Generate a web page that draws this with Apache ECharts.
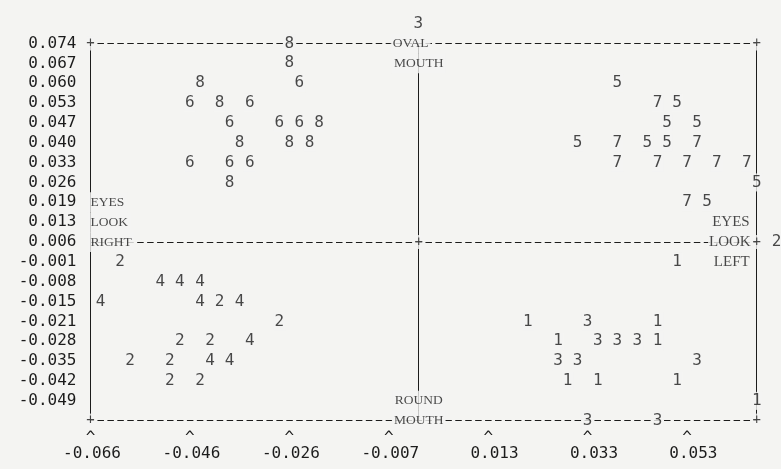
<!DOCTYPE html>
<html>
<head>
<meta charset="utf-8">
<script src="https://cdn.jsdelivr.net/npm/echarts@6/dist/echarts.min.js"></script>
<style>
  html, body { margin: 0; padding: 0; background: #f4f4f2; }
  #chart { width: 781px; height: 469px; }
</style>
</head>
<body>
<div id="chart"></div>
<script>
// Tick labels printed along the axes
const xTickLabels = ['-0.066', '-0.046', '-0.026', '-0.007', '0.013', '0.033', '0.053'];
const yTickLabels = ['0.074', '0.067', '0.060', '0.053', '0.047', '0.040', '0.033', '0.026',
  '0.019', '0.013', '0.006', '-0.001', '-0.008', '-0.015', '-0.021', '-0.028', '-0.035',
  '-0.042', '-0.049', '-0.056'];

// Plot range: 68 print columns by 20 print lines
const xMin = -0.066, xStep = 0.00198, xCols = 67;
const yMax = 0.074, yMin = -0.056, yRows = 19;

// Scores per class, [x, y]; each point is printed as its class digit
const class1 = [[0.0508, -0.0013], [0.0211, -0.0218], [0.0469, -0.0218], [0.0271, -0.0286],
  [0.0469, -0.0286], [0.0290, -0.0423], [0.0350, -0.0423], [0.0508, -0.0423], [0.0667, -0.0492]];
const class2 = [[-0.0601, -0.0013], [-0.0403, -0.0150], [-0.0284, -0.0218], [-0.0482, -0.0286],
  [-0.0422, -0.0286], [-0.0581, -0.0355], [-0.0502, -0.0355], [-0.0502, -0.0423],
  [-0.0442, -0.0423], [0.0706, 0.0056]];
const class3 = [[-0.0007, 0.0808], [0.0330, -0.0218], [0.0350, -0.0286], [0.0389, -0.0286],
  [0.0429, -0.0286], [0.0271, -0.0355], [0.0310, -0.0355], [0.0548, -0.0355],
  [0.0330, -0.0560], [0.0469, -0.0560]];
const class4 = [[-0.0521, -0.0081], [-0.0482, -0.0081], [-0.0442, -0.0081], [-0.0640, -0.0150],
  [-0.0442, -0.0150], [-0.0363, -0.0150], [-0.0343, -0.0286], [-0.0422, -0.0355], [-0.0383, -0.0355]];
const class5 = [[0.0389, 0.0603], [0.0508, 0.0535], [0.0488, 0.0466], [0.0548, 0.0466],
  [0.0310, 0.0398], [0.0449, 0.0398], [0.0488, 0.0398], [0.0667, 0.0261], [0.0568, 0.0193]];
const class6 = [[-0.0244, 0.0603], [-0.0462, 0.0535], [-0.0343, 0.0535], [-0.0383, 0.0466],
  [-0.0284, 0.0466], [-0.0244, 0.0466], [-0.0462, 0.0329], [-0.0383, 0.0329], [-0.0343, 0.0329]];
const class7 = [[0.0469, 0.0535], [0.0389, 0.0398], [0.0548, 0.0398], [0.0389, 0.0329],
  [0.0469, 0.0329], [0.0528, 0.0329], [0.0587, 0.0329], [0.0647, 0.0329], [0.0528, 0.0193]];
const class8 = [[-0.0264, 0.0740], [-0.0264, 0.0672], [-0.0442, 0.0603], [-0.0403, 0.0535],
  [-0.0205, 0.0466], [-0.0363, 0.0398], [-0.0264, 0.0398], [-0.0224, 0.0398], [-0.0383, 0.0261]];

const INK = '#1c1c1c';
const PAPER = '#f4f4f2';
const MONO = '"DejaVu Sans Mono", "Liberation Mono", monospace';
const SERIF = '"Liberation Serif", "DejaVu Serif", serif';

const xMax = xMin + xCols * xStep;
const yStep = (yMax - yMin) / yRows;
const xMid = xMin + 33 * xStep;          // zero line of the horizontal score
const yMid = yMax - 10 * yStep;          // zero line of the vertical score

const xTickValues = xTickLabels.map((_, i) => xMin + i * 10 * xStep);
const yTickValues = yTickLabels.map((_, i) => yMax - i * yStep);

function labelFor(values, labels, v) {
  let best = 0;
  values.forEach((t, i) => { if (Math.abs(t - v) < Math.abs(values[best] - v)) best = i; });
  return labels[best];
}

const classes = [['1', class1], ['2', class2], ['3', class3], ['4', class4],
  ['5', class5], ['6', class6], ['7', class7], ['8', class8]];

const digitSeries = classes.map(([digit, pts]) => ({
  type: 'scatter',
  name: digit,
  data: pts,
  symbolSize: 0.1,
  itemStyle: { color: 'rgba(0,0,0,0)' },
  clip: false,
  z: 6,
  silent: true,
  label: {
    show: true, position: 'inside', formatter: digit,
    fontFamily: MONO, fontSize: 16, lineHeight: 16, color: INK,
    backgroundColor: PAPER, padding: [1, 1]
  }
}));

const dashed = { color: INK, width: 1, type: [6.5, 3.44], dashOffset: 3.0 };
const solid = { color: INK, width: 1, type: 'solid' };

const frameSeries = {
  type: 'scatter', name: 'frame', data: [], z: 1, silent: true,
  markLine: {
    silent: true, symbol: 'none', animation: false, precision: 8,
    label: { show: false },
    emphasis: { disabled: true },
    data: [
      { yAxis: yMax, lineStyle: dashed },
      { yAxis: yMin, lineStyle: dashed },
      { yAxis: yMid, lineStyle: dashed },
      { xAxis: xMin, lineStyle: solid },
      { xAxis: xMax, lineStyle: solid },
      { xAxis: xMid, lineStyle: solid }
    ]
  }
};

const plusSeries = {
  type: 'scatter', name: 'corners', z: 7, silent: true, clip: false,
  symbolSize: 0.1, itemStyle: { color: 'rgba(0,0,0,0)' },
  data: [[xMin, yMax], [xMax, yMax], [xMin, yMin], [xMax, yMin], [xMid, yMid], [xMax, yMid]],
  label: {
    show: true, position: 'inside', formatter: '+',
    fontFamily: MONO, fontSize: 14, lineHeight: 14, color: INK,
    backgroundColor: PAPER, padding: [0, 0]
  }
};

function note(x, y, text, extra) {
  return {
    value: [x, y],
    label: Object.assign({ formatter: text }, extra || {})
  };
}

const noteSeries = {
  type: 'scatter', name: 'notes', z: 5, silent: true, clip: false,
  symbolSize: 0.1, itemStyle: { color: 'rgba(0,0,0,0)' },
  label: {
    show: true, position: 'inside',
    fontFamily: SERIF, fontSize: 13.5, lineHeight: 16, color: INK,
    backgroundColor: PAPER, padding: [2, 2]
  },
  data: [
    note(xMid, yMax, 'OVAL', { offset: [-8, 0] }),
    note(xMid, yMax - yStep, 'MOUTH'),
    note(xMid, yMin + yStep, 'ROUND'),
    note(xMid, yMin, 'MOUTH'),
    note(xMin, yMax - 8 * yStep, 'EYES', { align: 'left', offset: [-3, 0], padding: [2, 3] }),
    note(xMin, yMax - 9 * yStep, 'LOOK', { align: 'left', offset: [-3, 0], padding: [2, 3] }),
    note(xMin, yMid, 'RIGHT', { align: 'left', offset: [-3, 0], padding: [2, 3] }),
    note(xMax, yMax - 9 * yStep, 'EYES', { align: 'right', offset: [-5, 0], fontSize: 15, backgroundColor: 'transparent' }),
    note(xMax, yMid, 'LOOK', { align: 'right', offset: [-5, 0], fontSize: 15, padding: [2, 1] }),
    note(xMax, yMid - yStep, 'LEFT', { align: 'right', offset: [-5, 0], fontSize: 15, backgroundColor: 'transparent' })
  ]
};

const chart = echarts.init(document.getElementById('chart'), null, { renderer: 'canvas' });
chart.setOption({
  backgroundColor: PAPER,
  animation: false,
  grid: { left: 90.5, right: 24.3, top: 43.5, bottom: 48.4 },
  xAxis: {
    type: 'value', min: xMin, max: xMax,
    axisLine: { show: false }, axisTick: { show: false }, splitLine: { show: false },
    axisLabel: {
      customValues: xTickValues,
      margin: 9,
      formatter: v => {
        const s = labelFor(xTickValues, xTickLabels, v);
        return '{c|^}\n{v|' + (s.charAt(0) === '-' ? s : '\u00a0' + s) + '}';
      },
      rich: {
        c: { fontFamily: MONO, fontSize: 16, lineHeight: 16, color: INK },
        v: { fontFamily: MONO, fontSize: 16, lineHeight: 16, color: INK, padding: [0, 0, 0, 3] }
      }
    }
  },
  yAxis: {
    type: 'value', min: yMin, max: yMax,
    axisLine: { show: false }, axisTick: { show: false }, splitLine: { show: false },
    axisLabel: {
      customValues: yTickValues,
      margin: 14,
      formatter: v => labelFor(yTickValues, yTickLabels, v),
      fontFamily: MONO, fontSize: 16, color: INK
    }
  },
  series: [frameSeries, noteSeries].concat(digitSeries, [plusSeries])
});
</script>
</body>
</html>
